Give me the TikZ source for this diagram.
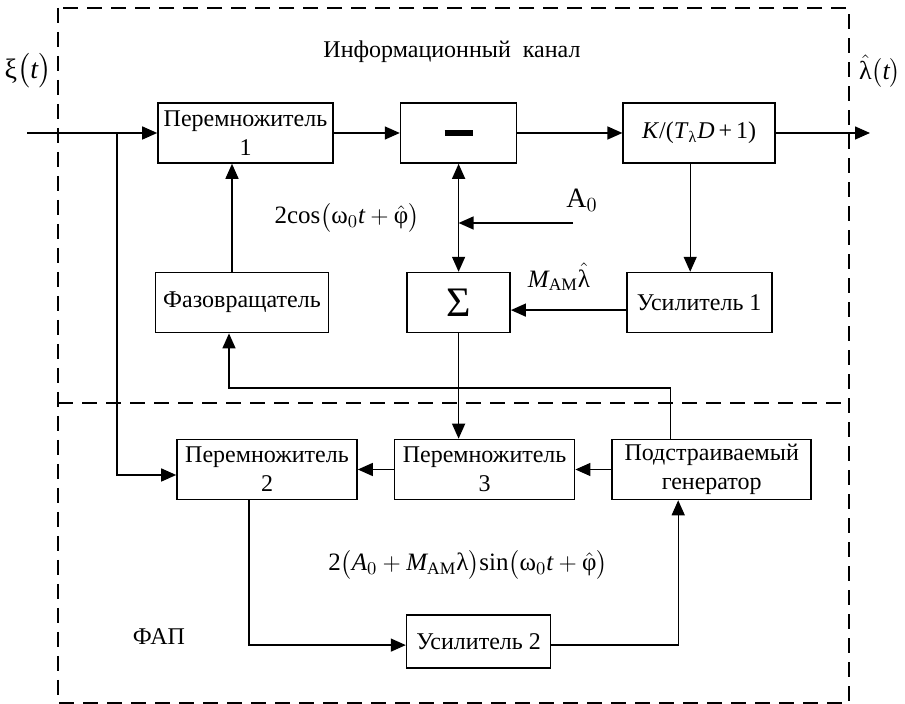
\documentclass[tikz,border=0pt]{standalone}
\usepackage{amsmath}
\usepackage{fontspec}
\setmainfont{Liberation Serif}
\usetikzlibrary{arrows.meta, positioning}

\begin{document}
\begin{tikzpicture}[
    x=0.5pt, y=-0.5pt,
    every node/.style={font=\fontsize{12}{14.5}\selectfont},
    block/.style   ={rectangle, draw, line width=0.8pt, align=center, minimum height=30pt, inner sep=1pt},
    frame/.style   ={line width=0.8pt, dash pattern=on 7.5pt off 4.5pt},
    wire/.style    ={line width=0.7pt},
    arrow/.style   ={-{Triangle[length=7.5pt, width=6.5pt]}, line width=0.7pt},
    dblarrow/.style={{Triangle[length=7.5pt, width=6.5pt]}-{Triangle[length=7.5pt, width=6.5pt]}, line width=0.7pt},
    lbl/.style     ={inner sep=0pt}
]
\useasboundingbox (0,0) rectangle (905,704);
\draw[frame] (58,8) rectangle (849,703);
\draw[frame] (58,403) -- (849,403);
\node[block, minimum width=87.5pt] (mult1) at (245.5,133) {Перемножитель\\1};
\node[block, minimum width=58pt, right=33pt of mult1] (minus) {\rule{14pt}{3pt}};
\node[block, minimum width=76pt, right=52.5pt of minus] (filt) {\textit{K}/(\textit{T}\textsubscript{λ}\textit{D}\,+\,1)};
\node[block, minimum width=72.5pt, below=54pt of filt] (amp1) {Усилитель 1};
\node[block, minimum width=51.5pt, left=57.5pt of amp1] (sum) {\fontsize{21}{21}\selectfont Σ};
\node[block, minimum width=86.5pt, left=38.5pt of sum] (phase) {Фазовращатель};
\node[block, minimum width=90pt] (mult2) at (267,469.5) {Перемножитель\\2};
\node[block, minimum width=90pt, right=18pt of mult2] (mult3) {Перемножитель\\3};
\node[block, minimum width=99.5pt, right=18pt of mult3] (gen) {Подстраиваемый\\генератор};
\node[block, minimum width=72pt, minimum height=26.5pt, below=57pt of mult3, xshift=-3pt] (amp2) {Усилитель 2};
\node[lbl] (title) at (452,52) {Информационный\ \ канал};
\node[lbl, font=\fontsize{14}{14}\selectfont] (xil) at (28,71) {$\text{ξ}\bigl(\textit{t}\bigr)$};
\node[lbl, font=\fontsize{13}{13}\selectfont] (laml) at (880,71) {$\hat{\text{λ}}\bigl(\textit{t}\bigr)$};
\node[lbl, font=\fontsize{12.5}{14}\selectfont] (cosl) at (347,218) {$\text{2cos}\bigl(\text{ω}_0\textit{t}+\hat{\text{φ}}\bigr)$};
\node[lbl, font=\fontsize{14}{14}\selectfont] (a0l) at (582,200) {$\text{A}_0$};
\node[lbl, font=\fontsize{12.5}{14}\selectfont] (mampl) at (559,277) {$\textit{M}_{\text{АМ}}\hat{\text{λ}}$};
\node[lbl, font=\fontsize{12.5}{14}\selectfont] (sinl) at (468,565) {$\text{2}\bigl(\textit{A}_0+\textit{M}_{\text{АМ}}\text{λ}\bigr)\text{sin}\bigl(\text{ω}_0\textit{t}+\hat{\text{φ}}\bigr)$};
\node[lbl] (fapl) at (159,637) {ФАП};
\coordinate (in) at (27,133);
\coordinate (split) at (117,133);
\coordinate (out) at (870,133);
\coordinate (a0) at (573,223);
\coordinate (fb) at (229,388);
\draw[wire] (in) -- (split);
\draw[arrow] (split) -- (split -| mult1.west);
\draw[arrow] (split) |- ([yshift=-2.75pt]mult2.west);
\draw[arrow] (mult1.east) -- (mult1.east -| minus.west);
\draw[arrow] (minus.east) -- (minus.east -| filt.west);
\draw[arrow] (filt.east) -- (out);
\draw[arrow] ([xshift=-4.5pt]filt.south) -- ([xshift=-4.5pt]filt.south |- amp1.north);
\draw[arrow] ([yshift=-3.75pt]amp1.west) -- ([yshift=-3.75pt]amp1.west -| sum.east);
\draw[dblarrow] (minus.south) -- (minus.south |- sum.north);
\draw[arrow] (a0) -- (a0 -| minus.south);
\draw[arrow] ([xshift=-5pt]phase.north) -- ([xshift=-5pt]phase.north |- mult1.south);
\draw[arrow] ([xshift=-20.5pt]gen.north) |- (fb) -- (fb |- phase.south);
\draw[arrow] (sum.south) -- (sum.south |- mult3.north);
\draw[arrow] (gen.west) -- (mult3.east);
\draw[arrow] (mult3.west) -- (mult2.east);
\draw[arrow] ([xshift=-9pt]mult2.south) |- ([yshift=-1.75pt]amp2.west);
\draw[arrow] ([yshift=-1.75pt]amp2.east) -| ([xshift=-16.75pt]gen.south);
\end{tikzpicture}
\end{document}
